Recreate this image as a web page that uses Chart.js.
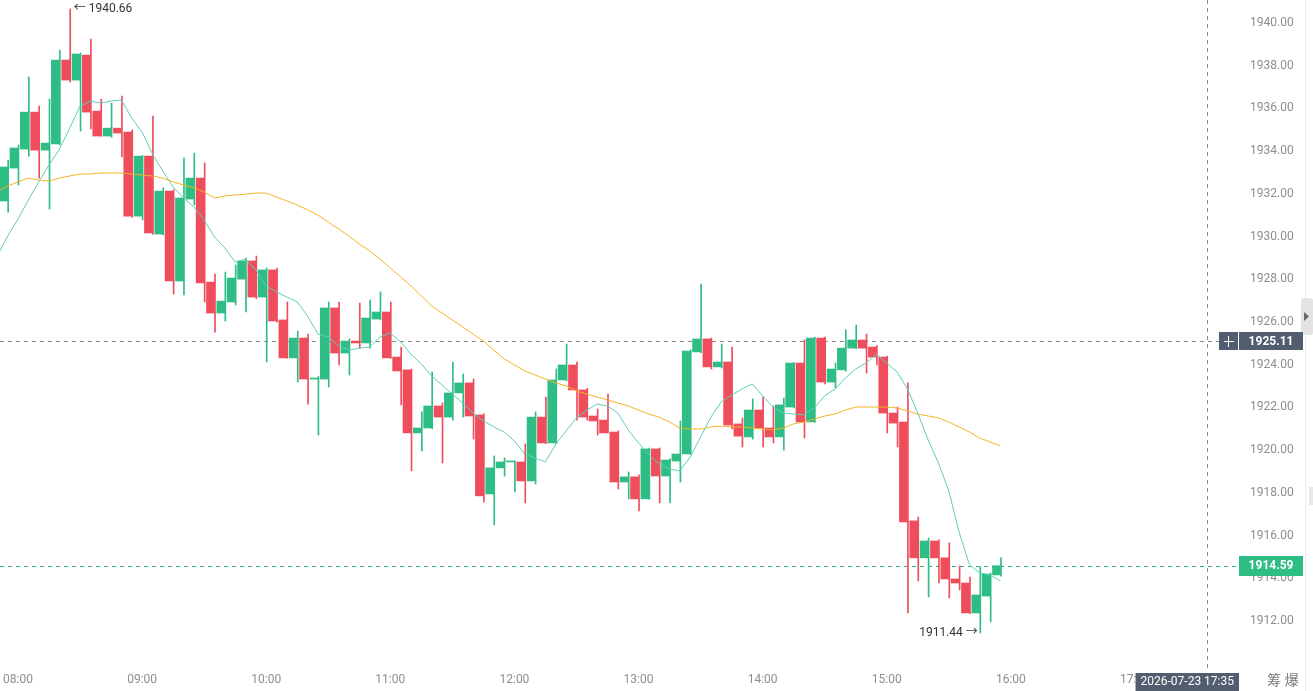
<!DOCTYPE html>
<html>
<head>
<meta charset="utf-8">
<script src="https://cdn.jsdelivr.net/npm/chart.js@4.4.1/dist/chart.umd.min.js"></script>
<style>
  html, body { margin: 0; padding: 0; background: #fff; overflow: hidden; }
  #wrap { position: relative; width: 1313px; height: 691px; }
</style>
</head>
<body>
<div id="wrap"><canvas id="chart"></canvas></div>
<script>
// 5 minute candles
const times = [
    '07:50','07:55','08:00','08:05','08:10','08:15','08:20','08:25','08:30','08:35',
    '08:40','08:45','08:50','08:55','09:00','09:05','09:10','09:15','09:20','09:25',
    '09:30','09:35','09:40','09:45','09:50','09:55','10:00','10:05','10:10','10:15',
    '10:20','10:25','10:30','10:35','10:40','10:45','10:50','10:55','11:00','11:05',
    '11:10','11:15','11:20','11:25','11:30','11:35','11:40','11:45','11:50','11:55',
    '12:00','12:05','12:10','12:15','12:20','12:25','12:30','12:35','12:40','12:45',
    '12:50','12:55','13:00','13:05','13:10','13:15','13:20','13:25','13:30','13:35',
    '13:40','13:45','13:50','13:55','14:00','14:05','14:10','14:15','14:20','14:25',
    '14:30','14:35','14:40','14:45','14:50','14:55','15:00','15:05','15:10','15:15',
    '15:20','15:25','15:30','15:35','15:40','15:45','15:50','15:55',
];

const opens = [
    1930.64,1931.67,1933.21,1934.10,1935.83,1934.05,1934.34,1938.27,1937.33,1938.50,
    1935.88,1934.71,1935.08,1934.90,1930.96,1933.77,1930.12,1932.13,1927.92,1931.76,
    1932.74,1927.87,1926.42,1926.94,1928.01,1928.86,1927.17,1928.44,1926.10,1924.32,
    1925.25,1923.33,1923.33,1926.66,1924.55,1925.11,1925.02,1926.14,1926.47,1924.36,
    1923.76,1920.81,1921.04,1922.07,1921.55,1922.68,1923.15,1921.65,1917.95,1919.17,
    1919.45,1919.45,1918.56,1921.55,1920.34,1923.29,1923.99,1922.82,1921.60,1921.41,
    1920.85,1918.51,1918.75,1917.72,1920.06,1918.79,1919.49,1919.82,1924.60,1925.21,
    1923.90,1924.13,1921.23,1920.62,1921.88,1921.04,1920.62,1922.02,1924.08,1921.32,
    1925.25,1923.19,1923.76,1924.78,1925.16,1924.83,1924.36,1921.74,1921.32,1916.69,
    1914.96,1915.75,1914.96,1913.97,1913.78,1912.38,1913.17,1914.16,
];
const highs = [
    1932.00,1933.59,1934.29,1937.47,1936.11,1936.44,1938.74,1940.66,1938.60,1939.25,
    1936.44,1936.25,1936.58,1935.00,1933.80,1935.65,1932.28,1932.20,1933.68,1933.91,
    1933.45,1928.25,1928.34,1928.67,1929.00,1929.09,1928.53,1928.53,1926.94,1925.58,
    1925.44,1923.45,1926.94,1926.94,1925.21,1926.89,1927.03,1927.41,1926.94,1924.83,
    1923.80,1921.79,1923.66,1922.21,1924.13,1923.57,1923.33,1921.70,1919.73,1919.64,
    1919.50,1920.29,1921.79,1922.49,1923.80,1924.97,1924.13,1922.90,1921.93,1922.63,
    1920.90,1918.98,1918.84,1920.10,1920.10,1919.60,1921.37,1924.70,1927.78,1925.25,
    1924.97,1924.83,1921.51,1922.40,1922.49,1922.07,1922.44,1924.10,1925.16,1925.30,
    1925.30,1924.08,1925.63,1925.86,1925.44,1924.90,1924.40,1922.02,1923.15,1916.87,
    1915.89,1915.80,1915.66,1914.58,1914.06,1914.53,1914.25,1914.96,
];
const lows = [
    1930.30,1931.15,1932.42,1933.77,1932.74,1931.29,1934.30,1937.24,1934.94,1935.04,
    1934.70,1934.65,1933.73,1930.90,1930.78,1930.10,1930.08,1927.31,1927.27,1931.48,
    1926.94,1925.53,1926.05,1926.80,1926.47,1927.10,1924.13,1926.00,1924.30,1923.19,
    1922.16,1920.71,1922.96,1923.99,1923.52,1924.78,1924.78,1926.10,1924.30,1922.12,
    1919.03,1919.96,1921.00,1919.40,1921.41,1921.55,1920.52,1917.57,1916.50,1918.79,
    1918.04,1917.53,1918.42,1920.30,1920.30,1923.25,1921.41,1921.40,1920.71,1920.80,
    1918.18,1917.72,1917.15,1917.70,1917.53,1917.53,1918.51,1919.80,1924.55,1923.80,
    1923.85,1920.99,1920.15,1920.52,1920.15,1920.34,1920.00,1921.98,1920.57,1921.30,
    1923.10,1922.91,1923.70,1924.75,1923.61,1923.99,1920.81,1920.15,1912.38,1913.88,
    1913.13,1913.78,1913.08,1913.46,1912.35,1911.44,1911.96,1914.10,
];
const closes = [
    1931.71,1933.26,1934.15,1935.83,1934.05,1934.38,1938.27,1937.33,1938.55,1935.83,
    1934.71,1935.08,1934.85,1930.96,1933.77,1930.17,1932.13,1927.92,1931.81,1932.74,
    1927.83,1926.42,1926.98,1928.06,1928.86,1927.17,1928.44,1926.05,1924.32,1925.25,
    1923.33,1923.38,1926.66,1924.55,1925.11,1925.02,1926.19,1926.47,1924.32,1923.71,
    1920.81,1921.04,1922.07,1921.55,1922.68,1923.15,1921.60,1917.86,1919.17,1919.45,
    1919.47,1918.56,1921.55,1920.34,1923.29,1923.99,1922.82,1921.55,1921.37,1920.81,
    1918.51,1918.75,1917.72,1920.06,1918.79,1919.54,1919.82,1924.64,1925.21,1923.90,
    1924.13,1921.18,1920.66,1921.88,1921.04,1920.62,1922.12,1924.08,1921.32,1925.25,
    1923.19,1923.80,1924.78,1925.16,1924.78,1924.36,1921.74,1921.27,1916.64,1914.96,
    1915.75,1914.96,1913.97,1913.78,1912.38,1913.22,1914.20,1914.59,
];

// moving average lines
const maFast = [
    1929.09,1930.03,1930.82,1931.71,1932.56,1933.35,1934.10,1935.08,1936.11,1936.35,
    1936.25,1936.35,1936.40,1935.55,1934.90,1933.87,1933.07,1932.32,1931.81,1931.39,
    1930.78,1929.98,1929.47,1928.81,1928.95,1928.44,1927.69,1927.41,1927.17,1926.94,
    1926.28,1925.44,1925.30,1924.88,1924.69,1924.78,1924.83,1925.30,1925.49,1925.07,
    1924.49,1924.04,1923.48,1923.05,1922.63,1922.21,1921.74,1921.37,1921.09,1920.85,
    1920.43,1919.82,1919.63,1919.45,1920.29,1920.90,1921.51,1921.88,1922.16,1922.07,
    1921.74,1920.95,1920.34,1919.78,1919.35,1919.12,1919.03,1919.68,1920.62,1921.55,
    1922.26,1922.58,1922.87,1923.10,1922.54,1922.02,1921.74,1921.69,1921.65,1921.98,
    1922.54,1922.87,1923.38,1923.80,1924.08,1924.50,1924.08,1923.66,1922.87,1921.74,
    1920.48,1919.40,1918.09,1916.17,1914.63,1914.25,1914.16,1913.88,
];
const maSlow = [
    1932.13,1932.37,1932.56,1932.74,1932.65,1932.60,1932.74,1932.84,1932.93,1932.93,
    1932.98,1932.98,1932.98,1932.93,1932.88,1932.84,1932.74,1932.56,1932.42,1932.28,
    1932.09,1931.81,1931.90,1931.95,1931.99,1932.04,1932.04,1931.85,1931.67,1931.48,
    1931.25,1931.01,1930.68,1930.36,1930.03,1929.65,1929.33,1928.95,1928.53,1928.11,
    1927.69,1927.22,1926.75,1926.42,1926.10,1925.77,1925.44,1925.11,1924.69,1924.27,
    1923.99,1923.71,1923.52,1923.33,1923.15,1923.01,1922.77,1922.63,1922.49,1922.35,
    1922.21,1922.07,1921.88,1921.69,1921.55,1921.32,1921.04,1920.99,1920.99,1921.09,
    1921.13,1921.09,1921.09,1921.04,1920.99,1920.95,1921.04,1921.23,1921.32,1921.46,
    1921.60,1921.69,1921.88,1922.02,1922.02,1922.02,1922.02,1921.98,1921.84,1921.69,
    1921.60,1921.51,1921.32,1921.09,1920.85,1920.57,1920.38,1920.20,
];

const hourTicks = ['08:00','09:00','10:00','11:00','12:00','13:00','14:00','15:00','16:00','17:00'];
const priceTicks = [1912, 1914, 1916, 1918, 1920, 1922, 1924, 1926, 1928, 1930, 1932, 1934, 1936, 1938, 1940];

const lastPrice = 1914.59;
const crossPrice = 1925.11;
const crossTime = '17:35';
const crossDate = '2026-07-23';
const cornerText = '筹 爆';

const UP = '#2ebd85';
const DOWN = '#ef4d5c';
const SLATE = '#535d70';
const TICK = '#8e8e8e';
const FONT = 'Roboto, "Noto Sans", "Noto Sans CJK SC", sans-serif';

function toMin(t) {
    const [h, m] = t.split(':').map(Number);
    return h * 60 + m;
}
function fmtMin(v) {
    const h = Math.floor(v / 60);
    const m = Math.round(v - h * 60);
    return String(h).padStart(2, '0') + ':' + String(m).padStart(2, '0');
}
function noPadding(s) {
    s.paddingTop = 0;
    s.paddingBottom = 0;
    s.paddingLeft = 0;
    s.paddingRight = 0;
}

const xs = times.map(toMin);
const candleColors = closes.map((c, i) => (c >= opens[i] ? UP : DOWN));

const overlay = {
    id: 'overlay',
    beforeDatasetsDraw(chart) {
        const { ctx, chartArea: a, scales: { x, y } } = chart;
        ctx.save();
        ctx.lineWidth = 1;
        ctx.setLineDash([4, 4]);

        // last price line
        const ly = Math.round(y.getPixelForValue(lastPrice)) + 0.5;
        ctx.strokeStyle = '#2ea88a';
        ctx.beginPath();
        ctx.moveTo(a.left, ly);
        ctx.lineTo(a.right, ly);
        ctx.stroke();

        // crosshair
        const cy = Math.round(y.getPixelForValue(crossPrice)) + 0.5;
        const cx = Math.round(x.getPixelForValue(toMin(crossTime))) + 0.5;
        ctx.strokeStyle = '#8a8a8a';
        ctx.beginPath();
        ctx.moveTo(a.left, cy);
        ctx.lineTo(a.right - 20, cy);
        ctx.moveTo(cx, a.top);
        ctx.lineTo(cx, a.bottom + 1);
        ctx.stroke();
        ctx.restore();
    },
    afterDatasetsDraw(chart) {
        const { ctx, scales: { x, y } } = chart;
        let hi = 0, lo = 0;
        highs.forEach((v, i) => { if (v > highs[hi]) hi = i; });
        lows.forEach((v, i) => { if (v < lows[lo]) lo = i; });

        ctx.save();
        ctx.font = '12px ' + FONT;
        ctx.fillStyle = '#333';
        ctx.textBaseline = 'middle';
        ctx.textAlign = 'left';
        ctx.fillText('← ' + highs[hi].toFixed(2), x.getPixelForValue(xs[hi]) + 4, y.getPixelForValue(highs[hi]));
        ctx.textAlign = 'right';
        ctx.fillText(lows[lo].toFixed(2) + ' →', x.getPixelForValue(xs[lo]) - 2, y.getPixelForValue(lows[lo]));
        ctx.restore();
    },
    afterDraw(chart) {
        const { ctx, chartArea: a, scales: { x, y } } = chart;
        ctx.save();

        // right edge panel
        ctx.fillStyle = '#ececec';
        ctx.fillRect(1305, 0, 1, 691);
        ctx.fillStyle = '#e3e3e3';
        ctx.beginPath();
        ctx.roundRect(1301, 298, 12, 37, 3);
        ctx.fill();
        ctx.fillStyle = '#666';
        ctx.beginPath();
        ctx.moveTo(1304, 312);
        ctx.lineTo(1309, 316.5);
        ctx.lineTo(1304, 321);
        ctx.closePath();
        ctx.fill();
        ctx.fillStyle = '#e8e8e8';
        ctx.fillRect(1309, 487, 4, 18);

        ctx.textBaseline = 'middle';
        ctx.textAlign = 'center';

        // last price tag
        const ly = y.getPixelForValue(lastPrice);
        ctx.fillStyle = UP;
        ctx.fillRect(a.right, Math.round(ly) - 10, 64, 20);
        ctx.fillStyle = '#fff';
        ctx.font = 'bold 12px ' + FONT;
        ctx.fillText(lastPrice.toFixed(2), a.right + 32, ly + 0.5);

        // crosshair price tag with plus button
        const cy = y.getPixelForValue(crossPrice);
        ctx.fillStyle = SLATE;
        ctx.fillRect(a.right - 20, Math.round(cy) - 9, 19, 18);
        ctx.fillRect(a.right, Math.round(cy) - 9, 64, 18);
        ctx.strokeStyle = '#fff';
        ctx.lineWidth = 1;
        ctx.beginPath();
        ctx.moveTo(a.right - 15, Math.round(cy) + 0.5);
        ctx.lineTo(a.right - 5, Math.round(cy) + 0.5);
        ctx.moveTo(a.right - 10.5, Math.round(cy) - 5);
        ctx.lineTo(a.right - 10.5, Math.round(cy) + 6);
        ctx.stroke();
        ctx.fillStyle = '#fff';
        ctx.fillText(crossPrice.toFixed(2), a.right + 32, cy + 0.5);

        // crosshair time tag
        const label = crossDate + ' ' + crossTime;
        ctx.font = '12px ' + FONT;
        const w = ctx.measureText(label).width + 10;
        const cx = x.getPixelForValue(toMin(crossTime));
        const left = Math.min(cx - w / 2, a.right - w);
        ctx.fillStyle = SLATE;
        ctx.fillRect(left, a.bottom + 2, w, 20);
        ctx.fillStyle = '#fff';
        ctx.fillText(label, left + w / 2, a.bottom + 11);

        // corner
        ctx.fillStyle = '#777';
        ctx.font = '14px ' + FONT;
        ctx.fillText(cornerText, 1283, 681);
        ctx.restore();
    },
};

new Chart(document.getElementById('chart'), {
    type: 'bar',
    data: {
        datasets: [
            {
                type: 'line',
                data: xs.map((t, i) => ({ x: t, y: maFast[i] })),
                borderColor: '#5ccfba',
                borderWidth: 1,
                pointRadius: 0,
                tension: 0,
                order: 0,
            },
            {
                type: 'line',
                data: xs.map((t, i) => ({ x: t, y: maSlow[i] })),
                borderColor: '#f4b324',
                borderWidth: 1,
                pointRadius: 0,
                tension: 0,
                order: 1,
            },
            {
                data: xs.map((t, i) => ({ x: t, y: [opens[i], closes[i]] })),
                backgroundColor: candleColors,
                barThickness: 8,
                minBarLength: 1,
                order: 2,
            },
            {
                data: xs.map((t, i) => ({ x: t, y: [lows[i], highs[i]] })),
                backgroundColor: candleColors,
                barThickness: 1,
                order: 3,
            },
        ],
    },
    options: {
        responsive: true,
        maintainAspectRatio: false,
        animation: false,
        layout: { padding: 0 },
        plugins: {
            legend: { display: false },
            tooltip: { enabled: false },
        },
        scales: {
            x: {
                type: 'linear',
                position: 'bottom',
                offset: false,
                min: 471.3,
                max: 1070.3,
                grid: { display: false, drawTicks: false },
                border: { display: false },
                afterFit: (s) => { s.height = 20; noPadding(s); },
                afterBuildTicks: (s) => { s.ticks = hourTicks.map((t) => ({ value: toMin(t) })); },
                ticks: {
                    autoSkip: false,
                    maxRotation: 0,
                    padding: 2,
                    color: TICK,
                    font: { family: FONT, size: 12 },
                    callback: (v) => fmtMin(v),
                },
            },
            y: {
                type: 'linear',
                position: 'right',
                min: 1909.66,
                max: 1941.08,
                grid: { display: false, drawTicks: false },
                border: { display: false },
                afterFit: (s) => { s.width = 74; noPadding(s); },
                afterBuildTicks: (s) => { s.ticks = priceTicks.map((v) => ({ value: v })); },
                ticks: {
                    padding: 11,
                    color: TICK,
                    font: { family: FONT, size: 12 },
                    callback: (v) => Number(v).toFixed(2),
                },
            },
        },
    },
    plugins: [overlay],
});
</script>
</body>
</html>
